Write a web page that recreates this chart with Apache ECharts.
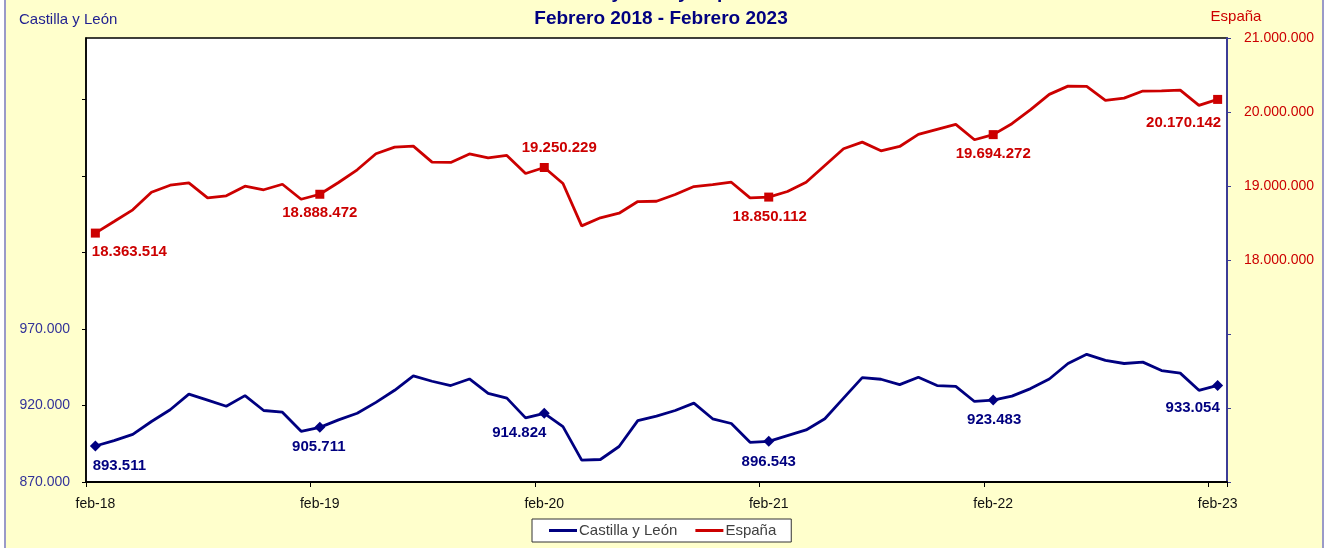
<!DOCTYPE html>
<html>
<head>
<meta charset="utf-8">
<script src="https://cdn.jsdelivr.net/npm/echarts@6/dist/echarts.min.js"></script>
<style>
html,body{margin:0;padding:0;background:#ffffff;}
#chart{width:1325px;height:548px;}
</style>
</head>
<body>
<div id="chart"></div>
<script>
const categories = [
 "feb-18","mar-18","abr-18","may-18","jun-18","jul-18","ago-18","sep-18","oct-18","nov-18","dic-18","ene-19",
 "feb-19","mar-19","abr-19","may-19","jun-19","jul-19","ago-19","sep-19","oct-19","nov-19","dic-19","ene-20",
 "feb-20","mar-20","abr-20","may-20","jun-20","jul-20","ago-20","sep-20","oct-20","nov-20","dic-20","ene-21",
 "feb-21","mar-21","abr-21","may-21","jun-21","jul-21","ago-21","sep-21","oct-21","nov-21","dic-21","ene-22",
 "feb-22","mar-22","abr-22","may-22","jun-22","jul-22","ago-22","sep-22","oct-22","nov-22","dic-22","ene-23",
 "feb-23"
];
const castillaLeon = [
 893511, 897000, 901100, 909500, 917200, 927400, 923500, 919500, 926400, 916700, 915600, 903100,
 905711, 910600, 914900, 922000, 929900, 939300, 935800, 933000, 937300, 927900, 924800, 911900,
 914824, 906200, 884300, 884700, 893200, 910100, 913000, 916700, 921500, 911300, 908200, 895900,
 896543, 900300, 904000, 911300, 924800, 938200, 937100, 933600, 938400, 933000, 932500, 922600,
 923483, 926100, 931000, 937300, 947400, 953400, 949400, 947400, 948300, 942800, 941100, 929900,
 933054
];
const espana = [
 18363514, 18520000, 18678000, 18916000, 19011000, 19043000, 18840000, 18867000, 18997000, 18949000, 19024000, 18821000,
 18888472, 19047000, 19219000, 19436000, 19525000, 19539000, 19322000, 19318000, 19433000, 19379000, 19413000, 19169000,
 19250229, 19034000, 18461000, 18570000, 18632000, 18790000, 18794000, 18885000, 18993000, 19020000, 19051000, 18840000,
 18850112, 18926000, 19051000, 19277000, 19503000, 19593000, 19476000, 19534000, 19697000, 19765000, 19832000, 19625000,
 19694272, 19842000, 20031000, 20238000, 20350000, 20346000, 20157000, 20188000, 20283000, 20285000, 20296000, 20089000,
 20170142
];
const markedIndex = [0, 12, 24, 36, 48, 60];
const leftTicks = [870000, 920000, 970000, 1020000, 1070000, 1120000];
const leftLabels = [870000, 920000, 970000];
const rightTicks = [15000000, 16000000, 17000000, 18000000, 19000000, 20000000, 21000000];
const rightLabels = [18000000, 19000000, 20000000, 21000000];

// label placement (layout, not data)
const cylLabelOffsets = [[24,20],[-1,20],[-25,19],[0,20],[1,20],[-25,22]];
const espLabelOffsets = [[34,19],[0,19],[15,-20],[1,20],[0,19],[-34,23]];

const FONT = "'Liberation Sans', Arial, sans-serif";
const NAVY = '#000080';
const RED = '#CC0000';
const fmt = v => String(Math.round(v)).replace(/\B(?=(\d{3})+(?!\d))/g, '.');

function buildData(values, offsets, color, symbol, size) {
  return values.map((v, i) => {
    const k = markedIndex.indexOf(i);
    if (k < 0) return { value: v, symbol: 'none' };
    return {
      value: v, symbol: symbol, symbolSize: size,
      label: {
        show: true, position: 'inside', offset: offsets[k],
        color: color, fontWeight: 'bold', fontSize: 15, fontFamily: FONT,
        formatter: p => fmt(p.value)
      }
    };
  });
}

const chart = echarts.init(document.getElementById('chart'), null, { renderer: 'canvas' });
chart.setOption({
  animation: false,
  backgroundColor: 'transparent',
  graphic: [
    { type: 'rect', z: -100, shape: { x: 5, y: -5, width: 1318, height: 560 },
      style: { fill: '#FFFFCC', stroke: '#9a9ac8', lineWidth: 2 } },
    { type: 'text', z: 10, x: 650, y: -7,
      style: { text: 'Castilla y León y España', font: 'bold 19px ' + FONT, fill: NAVY, align: 'center', verticalAlign: 'middle' } },
    { type: 'text', z: 10, x: 661, y: 19,
      style: { text: 'Febrero 2018 - Febrero 2023', font: 'bold 19px ' + FONT, fill: NAVY, align: 'center', verticalAlign: 'middle' } },
    { type: 'text', z: 10, x: 19, y: 20,
      style: { text: 'Castilla y León', font: '15px ' + FONT, fill: '#1f1f8f', align: 'left', verticalAlign: 'middle' } },
    { type: 'text', z: 10, x: 1236, y: 17,
      style: { text: 'España', font: '15px ' + FONT, fill: RED, align: 'center', verticalAlign: 'middle' } }
  ],
  legend: {
    data: ['Castilla y León', 'España'],
    left: 532, top: 519,
    padding: [4, 15, 4, 17],
    itemWidth: 28, itemHeight: 3, itemGap: 18,
    icon: 'rect',
    backgroundColor: '#ffffff', borderColor: '#333333', borderWidth: 1,
    textStyle: { fontSize: 15, color: '#404040', fontFamily: FONT, padding: [0, 0, 0, -3] }
  },
  grid: {
    left: 86, right: 98, top: 38, bottom: 66,
    show: true, backgroundColor: '#ffffff', borderColor: '#000000', borderWidth: 1.5
  },
  xAxis: {
    type: 'category', data: categories, boundaryGap: true,
    axisLine: { lineStyle: { color: '#000000', width: 2 } },
    axisTick: { show: true, interval: 11, length: 5, lineStyle: { color: '#000000', width: 1 } },
    axisLabel: { interval: 11, margin: 15, fontSize: 14, color: '#111111', fontFamily: FONT },
    splitLine: { show: false }
  },
  yAxis: [
    {
      type: 'value', position: 'left', min: 870000, max: 1160000, interval: 50000,
      axisLine: { show: true, lineStyle: { color: '#000000', width: 1.5 } },
      axisTick: { show: true, length: 4, customValues: leftTicks, lineStyle: { color: '#000000' } },
      axisLabel: { customValues: leftLabels, margin: 16, fontSize: 14, color: '#333399', fontFamily: FONT,
        formatter: v => fmt(v) },
      splitLine: { show: false }
    },
    {
      type: 'value', position: 'right', min: 15000000, max: 21000000, interval: 1000000,
      axisLine: { show: true, lineStyle: { color: '#3c3c96', width: 2 } },
      axisTick: { show: true, length: 4, customValues: rightTicks, lineStyle: { color: '#3c3c96' } },
      axisLabel: { customValues: rightLabels, margin: 17, fontSize: 14, color: RED, fontFamily: FONT,
        formatter: v => fmt(v) },
      splitLine: { show: false }
    }
  ],
  series: [
    {
      name: 'Castilla y León', type: 'line', yAxisIndex: 0,
      data: buildData(castillaLeon, cylLabelOffsets, NAVY, 'diamond', 11),
      symbol: 'diamond', symbolSize: 11, showSymbol: true, showAllSymbol: true,
      lineStyle: { color: NAVY, width: 2.8 },
      itemStyle: { color: NAVY },
      label: { show: false },
      emphasis: { disabled: true }
    },
    {
      name: 'España', type: 'line', yAxisIndex: 1,
      data: buildData(espana, espLabelOffsets, RED, 'rect', 9),
      symbol: 'rect', symbolSize: 9, showSymbol: true, showAllSymbol: true,
      lineStyle: { color: RED, width: 2.8 },
      itemStyle: { color: RED },
      label: { show: false },
      emphasis: { disabled: true }
    }
  ]
});
</script>
</body>
</html>
